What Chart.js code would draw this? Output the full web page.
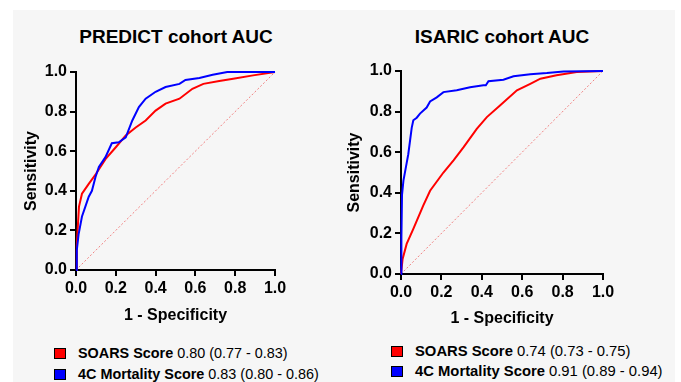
<!DOCTYPE html>
<html lang="en">
<head>
  <meta charset="UTF-8">
  <title>PREDICT and ISARIC cohort AUC</title>
  <script src="https://cdn.jsdelivr.net/npm/chart.js"></script>
  <style>
    body { margin: 0; background: #fff; font-family: Arial, "Liberation Sans", sans-serif; }
    #page { position: relative; width: 681px; height: 382px; overflow: hidden; }
    #backdrop { position: absolute; left: 13px; top: 10px; width: 662px; height: 372px; background: #f6f6f6; }
    .box { position: absolute; }
    .title { position: absolute; font-weight: bold; font-size: 19px; color: #000; white-space: nowrap; transform: translateX(-50%); }
    .legend { position: absolute; font-size: 14.4px; color: #000; white-space: nowrap; }
    .legend div { height: 21px; line-height: 21px; }
    .legend span.sw { display: inline-block; width: 10px; height: 9px; border: 1.5px solid #000; margin-right: 12px; vertical-align: -1px; }
    .legend b { font-weight: bold; }
  </style>
</head>
<body>
  <div id="page">
    <div id="backdrop"></div>
    <div class="title" style="left:176px; top:26px;">PREDICT cohort AUC</div>
    <div class="title" style="left:502px; top:26px;">ISARIC cohort AUC</div>
    <div class="box" style="left:0; top:0; width:330px; height:330px;"><canvas id="predictChart"></canvas></div>
    <div class="box" style="left:330px; top:0; width:351px; height:330px;"><canvas id="isaricChart"></canvas></div>
    <div class="legend" style="left:54px; top:343px;">
      <div><span class="sw" style="background:#ff0000"></span><b>SOARS Score</b> 0.80 (0.77 - 0.83)</div>
      <div><span class="sw" style="background:#0000ff"></span><b>4C Mortality Score</b> 0.83 (0.80 - 0.86)</div>
    </div>
    <div class="legend" style="left:391px; top:341px; font-size:14.8px;">
      <div style="height:20px; line-height:20px;"><span class="sw" style="background:#ff0000"></span><b>SOARS Score</b> 0.74 (0.73 - 0.75)</div>
      <div style="height:20px; line-height:20px;"><span class="sw" style="background:#0000ff"></span><b>4C Mortality Score</b> 0.91 (0.89 - 0.94)</div>
    </div>
  </div>

  <script>
    const axisTicks = [0, 0.2, 0.4, 0.6, 0.8, 1.0];

    // PREDICT cohort
    const predictSoarsX = [0, 0.004, 0.008, 0.015, 0.03, 0.064, 0.1, 0.148, 0.2, 0.25, 0.3, 0.35, 0.4, 0.45, 0.52, 0.585, 0.64, 0.72, 0.79, 0.89, 1.0];
    const predictSoarsY = [0, 0.12, 0.2, 0.32, 0.385, 0.435, 0.485, 0.56, 0.62, 0.68, 0.72, 0.755, 0.805, 0.84, 0.865, 0.915, 0.94, 0.955, 0.966, 0.983, 1.0];
    const predict4cX = [0, 0.003, 0.005, 0.013, 0.03, 0.047, 0.064, 0.08, 0.098, 0.115, 0.148, 0.18, 0.215, 0.25, 0.283, 0.316, 0.35, 0.4, 0.45, 0.52, 0.55, 0.62, 0.687, 0.76, 1.0];
    const predict4cY = [0, 0.05, 0.1, 0.18, 0.27, 0.32, 0.37, 0.40, 0.47, 0.52, 0.57, 0.64, 0.645, 0.67, 0.755, 0.823, 0.865, 0.9, 0.924, 0.94, 0.96, 0.97, 0.986, 1.0, 1.0];

    // ISARIC cohort
    const isaricSoarsX = [0, 0.008, 0.028, 0.061, 0.11, 0.144, 0.21, 0.26, 0.31, 0.375, 0.425, 0.49, 0.574, 0.64, 0.69, 0.77, 0.87, 1.0];
    const isaricSoarsY = [0, 0.074, 0.148, 0.222, 0.337, 0.41, 0.50, 0.56, 0.625, 0.715, 0.773, 0.83, 0.905, 0.937, 0.962, 0.979, 0.995, 1.0];
    const isaric4cX = [0, 0.002, 0.005, 0.012, 0.025, 0.036, 0.053, 0.061, 0.078, 0.094, 0.127, 0.144, 0.177, 0.21, 0.276, 0.342, 0.408, 0.42, 0.433, 0.507, 0.557, 0.64, 0.722, 0.805, 1.0];
    const isaric4cY = [0, 0.18, 0.39, 0.46, 0.53, 0.59, 0.72, 0.757, 0.77, 0.79, 0.82, 0.85, 0.87, 0.896, 0.905, 0.92, 0.93, 0.93, 0.95, 0.957, 0.974, 0.984, 0.99, 0.998, 1.0];

    const refX = [0, 1];
    const refY = [0, 1];

    const FONT = 'Arial, "Liberation Sans", sans-serif';

    function pts(xs, ys) {
      return xs.map((x, i) => ({ x: x, y: ys[i] }));
    }

    function makeChart(id, soars, fourC, box) {
      const ctx = document.getElementById(id).getContext('2d');
      const tickOpts = {
        color: '#000',
        font: { family: FONT, size: 16, weight: 'bold' },
        padding: 3,
        autoSkip: false,
        maxRotation: 0,
        callback: v => v.toFixed(1)
      };
      const gridOpts = { display: true, drawOnChartArea: false, drawTicks: true, tickLength: 6, color: '#000', lineWidth: 2 };
      return new Chart(ctx, {
        type: 'scatter',
        data: {
          datasets: [
            { data: pts(refX, refY), showLine: true, borderColor: '#f08080', borderWidth: 1, borderDash: [2, 2], pointRadius: 0, order: 3 },
            { data: soars, showLine: true, borderColor: '#ff0000', borderWidth: 2, pointRadius: 0, order: 2 },
            { data: fourC, showLine: true, borderColor: '#0000ff', borderWidth: 2, pointRadius: 0, order: 1 }
          ]
        },
        options: {
          responsive: true,
          maintainAspectRatio: false,
          animation: false,
          clip: false,
          layout: { padding: { top: box.top, right: box.right, bottom: 0, left: 0 } },
          plugins: { legend: { display: false }, tooltip: { enabled: false } },
          scales: {
            x: {
              type: 'linear', min: 0, max: 1,
              afterBuildTicks: s => { s.ticks = axisTicks.map(v => ({ value: v })); },
              afterFit: s => { s.height = box.xh; },
              ticks: tickOpts,
              grid: gridOpts,
              border: { color: '#000', width: 2 },
              title: { display: true, text: '1 - Specificity', color: '#000', font: { family: FONT, size: 16, weight: 'bold' }, padding: { top: 0, bottom: box.xpad } }
            },
            y: {
              type: 'linear', min: 0, max: 1,
              afterBuildTicks: s => { s.ticks = axisTicks.map(v => ({ value: v })); },
              afterFit: s => { s.width = box.yw; },
              ticks: tickOpts,
              grid: gridOpts,
              border: { color: '#000', width: 2 },
              title: { display: true, text: 'Sensitivity', color: '#000', font: { family: FONT, size: 16, weight: 'bold' }, padding: { top: box.ypad, bottom: 0 } }
            }
          }
        }
      });
    }

    makeChart('predictChart', pts(predictSoarsX, predictSoarsY), pts(predict4cX, predict4cY),
      { top: 72, right: 55, xh: 60, yw: 76, xpad: 5, ypad: 22 });
    makeChart('isaricChart', pts(isaricSoarsX, isaricSoarsY), pts(isaric4cX, isaric4cY),
      { top: 71, right: 78, xh: 56, yw: 71, xpad: 2, ypad: 15 });
  </script>
</body>
</html>
